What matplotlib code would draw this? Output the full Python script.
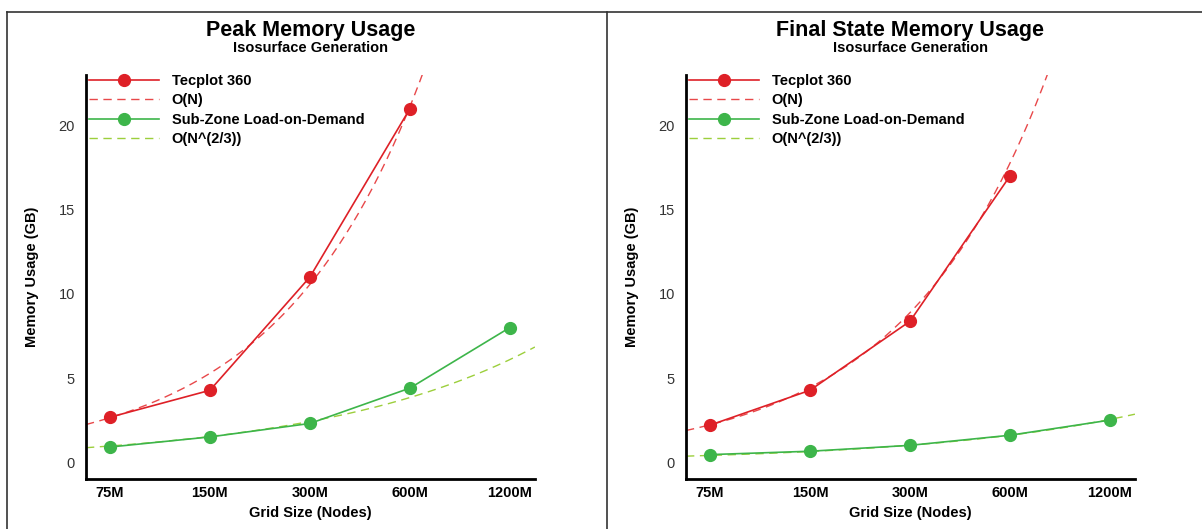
import numpy as np
import matplotlib.pyplot as plt
from matplotlib.lines import Line2D

plt.rcParams['font.family'] = ['Liberation Sans', 'DejaVu Sans']

grid_labels = ['75M', '150M', '300M', '600M', '1200M']
grid_nodes = np.array([75, 150, 300, 600, 1200])  # millions of nodes

peak_tecplot = [2.67, 4.27, 11.0, 21.0]
peak_szl = [0.9, 1.5, 2.3, 4.4, 8.0]
final_tecplot = [2.2, 4.27, 8.37, 17.0]
final_szl = [0.45, 0.65, 1.0, 1.6, 2.5]

# scaling reference curves: GB at 75M nodes
peak_on = 2.64
peak_on23 = 0.96
final_on = 2.22
final_on23 = 0.40

RED = '#de2027'
RED_DASH = '#e8484a'
GREEN = '#3db54a'
GREEN_DASH = '#9ccf3c'

XMIN, XMAX = -0.24, 4.25
YMIN, YMAX = -1.0, 23.0


def panel(ax, tecplot, szl, c_n, c_n23, title, fig, xc):
    idx = np.arange(len(grid_nodes))
    t = np.linspace(XMIN, XMAX, 200)
    n = grid_nodes[0] * 2.0**t  # log2 spaced categories
    ax.plot(idx[:len(tecplot)], tecplot, '-o', color=RED, lw=1.2, ms=8.5,
            label='Tecplot 360', zorder=3)
    ax.plot(t, c_n * n / grid_nodes[0], '--', color=RED_DASH, lw=1.0,
            dashes=(6, 4), label='O(N)', zorder=2)
    ax.plot(idx, szl, '-o', color=GREEN, lw=1.2, ms=8.5,
            label='Sub-Zone Load-on-Demand', zorder=3)
    ax.plot(t, c_n23 * (n / grid_nodes[0])**(2/3), '--', color=GREEN_DASH,
            lw=1.0, dashes=(6, 4), label='O(N^(2/3))', zorder=2)

    ax.set_xlim(XMIN, XMAX)
    ax.set_ylim(YMIN, YMAX)
    ax.set_xticks(idx)
    ax.set_xticklabels(grid_labels, fontweight='bold', fontsize=10.5)
    ax.set_yticks([0, 5, 10, 15, 20])
    ax.tick_params(axis='y', length=0, pad=8, labelsize=10.5,
                   labelcolor='#333333')
    ax.tick_params(axis='x', length=0, pad=5)
    for s in ['top', 'right']:
        ax.spines[s].set_visible(False)
    for s in ['left', 'bottom']:
        ax.spines[s].set_linewidth(2)
    ax.set_xlabel('Grid Size (Nodes)', fontweight='bold', fontsize=10.5,
                  labelpad=4)
    ax.set_ylabel('Memory Usage (GB)', fontweight='bold', fontsize=10.5,
                  labelpad=14)
    ax.legend(loc='upper left', bbox_to_anchor=(-0.012, 1.025),
              frameon=False, handlelength=4.8, handletextpad=0.85,
              labelspacing=0.38, borderaxespad=0.2,
              prop={'weight': 'bold', 'size': 10.5})
    fig.text(xc, 0.943, title, ha='center', va='center',
             fontweight='bold', fontsize=15.5)
    fig.text(xc, 0.909, 'Isosurface Generation', ha='center', va='center',
             fontweight='bold', fontsize=10.5)


fig = plt.figure(figsize=(12.02, 5.29), dpi=100)
ax1 = fig.add_axes([0.0715, 0.0945, 0.3735, 0.7637])
ax2 = fig.add_axes([0.5707, 0.0945, 0.3735, 0.7637])
panel(ax1, peak_tecplot, peak_szl, peak_on, peak_on23,
      'Peak Memory Usage', fig, 0.0715 + 0.3735/2)
panel(ax2, final_tecplot, final_szl, final_on, final_on23,
      'Final State Memory Usage', fig, 0.5707 + 0.3735/2)

# page frame lines
fig.add_artist(Line2D([0.0058, 1.0], [0.977, 0.977], color='#333333', lw=1.2))
fig.add_artist(Line2D([0.0058, 0.0058], [0.0, 0.977], color='#333333', lw=1.2))
fig.add_artist(Line2D([0.505, 0.505], [0.0, 0.977], color='#333333', lw=1.2))

fig.savefig('out.png', dpi=100)
